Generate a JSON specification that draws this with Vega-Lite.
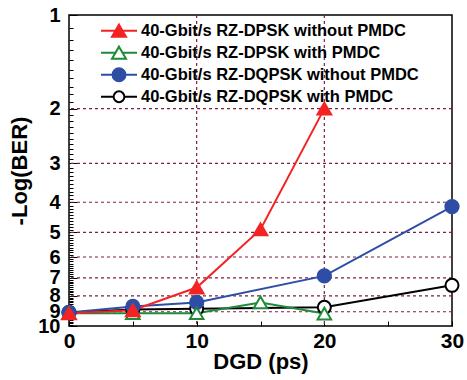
{
  "$schema": "https://vega.github.io/schema/vega-lite/v6.json",
  "width": 383,
  "height": 311,
  "autosize": {"type": "none"},
  "padding": {"left": 69, "top": 15, "right": 15, "bottom": 54},
  "background": "white",
  "config": {
    "view": {"stroke": "black", "strokeWidth": 1.5},
    "font": "Liberation Sans",
    "axis": {"labelFontWeight": "bold", "titleFontWeight": "bold", "labelColor": "black", "titleColor": "black", "tickColor": "black", "domain": false, "grid": false}
  },
  "data": {"values": [
    {"series": "40-Gbit/s RZ-DQPSK with PMDC", "dgd": 0, "nlog": 9.05},
    {"series": "40-Gbit/s RZ-DQPSK with PMDC", "dgd": 5, "nlog": 8.85},
    {"series": "40-Gbit/s RZ-DQPSK with PMDC", "dgd": 10, "nlog": 8.8},
    {"series": "40-Gbit/s RZ-DQPSK with PMDC", "dgd": 20, "nlog": 8.71},
    {"series": "40-Gbit/s RZ-DQPSK with PMDC", "dgd": 30, "nlog": 7.4},
    {"series": "40-Gbit/s RZ-DQPSK without PMDC", "dgd": 0, "nlog": 9.05},
    {"series": "40-Gbit/s RZ-DQPSK without PMDC", "dgd": 5, "nlog": 8.65},
    {"series": "40-Gbit/s RZ-DQPSK without PMDC", "dgd": 10, "nlog": 8.4},
    {"series": "40-Gbit/s RZ-DQPSK without PMDC", "dgd": 20, "nlog": 6.9},
    {"series": "40-Gbit/s RZ-DQPSK without PMDC", "dgd": 30, "nlog": 4.13},
    {"series": "40-Gbit/s RZ-DPSK with PMDC", "dgd": 0, "nlog": 9.1},
    {"series": "40-Gbit/s RZ-DPSK with PMDC", "dgd": 5, "nlog": 9.1},
    {"series": "40-Gbit/s RZ-DPSK with PMDC", "dgd": 10, "nlog": 9.1},
    {"series": "40-Gbit/s RZ-DPSK with PMDC", "dgd": 15, "nlog": 8.4},
    {"series": "40-Gbit/s RZ-DPSK with PMDC", "dgd": 20, "nlog": 9.12},
    {"series": "40-Gbit/s RZ-DPSK without PMDC", "dgd": 0, "nlog": 9.1},
    {"series": "40-Gbit/s RZ-DPSK without PMDC", "dgd": 5, "nlog": 8.9},
    {"series": "40-Gbit/s RZ-DPSK without PMDC", "dgd": 10, "nlog": 7.52},
    {"series": "40-Gbit/s RZ-DPSK without PMDC", "dgd": 15, "nlog": 4.89},
    {"series": "40-Gbit/s RZ-DPSK without PMDC", "dgd": 20, "nlog": 2.0}
  ]},
  "layer": [
    {
      "data": {"values": [{"nlog": 2}, {"nlog": 3}, {"nlog": 4}, {"nlog": 5}, {"nlog": 6}, {"nlog": 7}, {"nlog": 8}, {"nlog": 9}]},
      "mark": {"type": "rule", "color": "#7b2142", "strokeDash": [3, 3], "strokeWidth": 1.2},
      "encoding": {
        "y": {"field": "nlog", "type": "quantitative", "scale": {"type": "log", "domain": [1, 10], "reverse": true, "nice": false}, "title": "-Log(BER)"}
      }
    },
    {
      "data": {"values": [{"dgd": 10}, {"dgd": 20}]},
      "mark": {"type": "rule", "color": "#7b2142", "strokeDash": [3, 3], "strokeWidth": 1.2},
      "encoding": {
        "x": {"field": "dgd", "type": "quantitative", "scale": {"domain": [0, 30], "nice": false}, "title": "DGD (ps)"}
      }
    },
    {
      "mark": {"type": "line", "strokeWidth": 2},
      "encoding": {
        "x": {"field": "dgd", "type": "quantitative", "title": "DGD (ps)",
          "axis": {"values": [0, 5, 10, 15, 20, 25, 30], "labelExpr": "datum.value % 10 === 0 ? '' + datum.value : ''", "tickSize": -5, "labelFontSize": 21, "labelPadding": 9, "titleFontSize": 22, "titlePadding": 0, "labelFlush": false}},
        "y": {"field": "nlog", "type": "quantitative", "title": "-Log(BER)",
          "axis": {"values": [1, 1.1, 1.2, 1.3, 1.4, 1.5, 1.6, 1.7, 1.8, 1.9, 2, 2.1, 2.2, 2.3, 2.4, 2.5, 2.6, 2.7, 2.8, 2.9, 3, 3.1, 3.2, 3.3, 3.4, 3.5, 3.6, 3.7, 3.8, 3.9, 4, 4.1, 4.2, 4.3, 4.4, 4.5, 4.6, 4.7, 4.8, 4.9, 5, 5.1, 5.2, 5.3, 5.4, 5.5, 5.6, 5.7, 5.8, 5.9, 6, 6.1, 6.2, 6.3, 6.4, 6.5, 6.6, 6.7, 6.8, 6.9, 7, 7.1, 7.2, 7.3, 7.4, 7.5, 7.6, 7.7, 7.8, 7.9, 8, 8.1, 8.2, 8.3, 8.4, 8.5, 8.6, 8.7, 8.8, 8.9, 9, 9.1, 9.2, 9.3, 9.4, 9.5, 9.6, 9.7, 9.8, 9.9, 10],
            "labelExpr": "datum.value % 1 === 0 ? '' + datum.value : ''",
            "tickSize": {"condition": {"test": "datum.value % 1 === 0", "value": -8}, "value": -4},
            "labelOverlap": false, "labelFontSize": 20, "labelPadding": 17, "titleFontSize": 22, "titlePadding": 6, "labelFlush": false}},
        "detail": {"field": "series"},
        "stroke": {"field": "series", "type": "nominal", "legend": null,
          "scale": {"domain": ["40-Gbit/s RZ-DPSK without PMDC", "40-Gbit/s RZ-DPSK with PMDC", "40-Gbit/s RZ-DQPSK without PMDC", "40-Gbit/s RZ-DQPSK with PMDC"],
                    "range": ["#f42323", "#1e8a3a", "#2e4ea6", "#000000"]}}
      }
    },
    {
      "mark": {"type": "point", "opacity": 1, "strokeWidth": 2},
      "encoding": {
        "x": {"field": "dgd", "type": "quantitative"},
        "y": {"field": "nlog", "type": "quantitative"},
        "stroke": {"field": "series", "type": "nominal", "legend": null,
          "scale": {"domain": ["40-Gbit/s RZ-DPSK without PMDC", "40-Gbit/s RZ-DPSK with PMDC", "40-Gbit/s RZ-DQPSK without PMDC", "40-Gbit/s RZ-DQPSK with PMDC"],
                    "range": ["#f42323", "#1e8a3a", "#2e4ea6", "#000000"]}},
        "fill": {"field": "series", "type": "nominal", "legend": null,
          "scale": {"domain": ["40-Gbit/s RZ-DPSK without PMDC", "40-Gbit/s RZ-DPSK with PMDC", "40-Gbit/s RZ-DQPSK without PMDC", "40-Gbit/s RZ-DQPSK with PMDC"],
                    "range": ["#f42323", "#ffffff", "#2e4ea6", "#ffffff"]}},
        "shape": {"field": "series", "type": "nominal", "legend": null,
          "scale": {"domain": ["40-Gbit/s RZ-DPSK without PMDC", "40-Gbit/s RZ-DPSK with PMDC", "40-Gbit/s RZ-DQPSK without PMDC", "40-Gbit/s RZ-DQPSK with PMDC"],
                    "range": ["triangle-up", "triangle-up", "circle", "circle"]}},
        "size": {"field": "series", "type": "nominal", "legend": null,
          "scale": {"domain": ["40-Gbit/s RZ-DPSK without PMDC", "40-Gbit/s RZ-DPSK with PMDC", "40-Gbit/s RZ-DQPSK without PMDC", "40-Gbit/s RZ-DQPSK with PMDC"],
                    "range": [190, 170, 160, 130]}}
      }
    },
    {
      "transform": [{"filter": "datum.dgd < 0"}],
      "mark": {"type": "point", "opacity": 1, "strokeWidth": 2, "filled": true},
      "encoding": {
        "x": {"field": "dgd", "type": "quantitative"},
        "y": {"field": "nlog", "type": "quantitative"},
        "stroke": {"field": "series", "type": "nominal",
          "scale": {"domain": ["40-Gbit/s RZ-DPSK without PMDC", "40-Gbit/s RZ-DPSK with PMDC", "40-Gbit/s RZ-DQPSK without PMDC", "40-Gbit/s RZ-DQPSK with PMDC"],
                    "range": ["#f42323", "#1e8a3a", "#2e4ea6", "#000000"]},
          "legend": {"orient": "none", "legendX": 31, "legendY": 5, "padding": 0, "rowPadding": 0, "clipHeight": 21.5, "labelFontSize": 16.5, "labelFontWeight": "bold", "labelColor": "black", "labelOffset": 3, "labelLimit": 0, "title": null, "symbolStrokeWidth": 2, "symbolSize": 1296}},
        "fill": {"field": "series", "type": "nominal",
          "scale": {"domain": ["40-Gbit/s RZ-DPSK without PMDC", "40-Gbit/s RZ-DPSK with PMDC", "40-Gbit/s RZ-DQPSK without PMDC", "40-Gbit/s RZ-DQPSK with PMDC"],
                    "range": ["#f42323", "#ffffff", "#2e4ea6", "#ffffff"]},
          "legend": {"orient": "none", "legendX": 31, "legendY": 5, "padding": 0, "rowPadding": 0, "clipHeight": 21.5, "labelFontSize": 16.5, "labelFontWeight": "bold", "labelColor": "black", "labelOffset": 3, "labelLimit": 0, "title": null, "symbolStrokeWidth": 2, "symbolSize": 1296}},
        "shape": {"field": "series", "type": "nominal",
          "scale": {"domain": ["40-Gbit/s RZ-DPSK without PMDC", "40-Gbit/s RZ-DPSK with PMDC", "40-Gbit/s RZ-DQPSK without PMDC", "40-Gbit/s RZ-DQPSK with PMDC"],
                    "range": [
                      "M-1,0H1M0,-0.34L0.39,0.34H-0.39Z",
                      "M-1,0H-0.2M0.2,0H1M0,-0.34L0.39,0.34H-0.39Z",
                      "M-1,0H1M-0.36,0A0.36,0.36,0,1,0,0.36,0A0.36,0.36,0,1,0,-0.36,0Z",
                      "M-1,0H-0.3M0.3,0H1M-0.3,0A0.3,0.3,0,1,0,0.3,0A0.3,0.3,0,1,0,-0.3,0Z"
                    ]},
          "legend": {"orient": "none", "legendX": 31, "legendY": 5, "padding": 0, "rowPadding": 0, "clipHeight": 21.5, "labelFontSize": 16.5, "labelFontWeight": "bold", "labelColor": "black", "labelOffset": 3, "labelLimit": 0, "title": null, "symbolStrokeWidth": 2, "symbolSize": 1296}}
      }
    }
  ],
  "resolve": {
    "scale": {"shape": "independent", "fill": "independent", "stroke": "independent", "size": "independent"},
    "legend": {"shape": "independent", "fill": "independent", "stroke": "independent", "size": "independent"}
  }
}
